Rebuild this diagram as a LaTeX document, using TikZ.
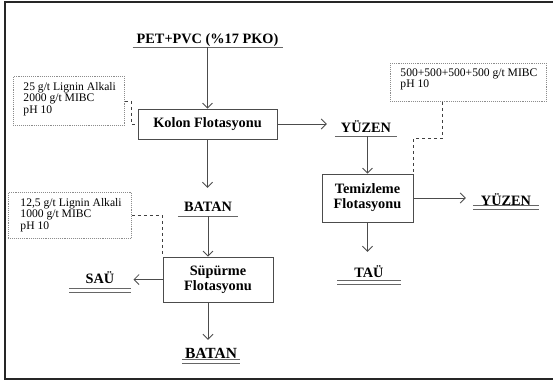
\documentclass[tikz,border=0pt]{standalone}
\usepackage{fontspec}
\setmainfont{Liberation Serif}
\usetikzlibrary{arrows.meta,calc}
\newcommand{\notelines}[3]{\parbox[c][#1][t]{#2}{\raggedright\hbadness=10000\hfuzz=20pt #3}}
\begin{document}
\begin{tikzpicture}[x=1pt,y=-1pt,
  box/.style={draw=black!70,line width=0.8pt,align=center,inner sep=0pt,
    font=\fontsize{14.3}{15}\selectfont\bfseries},
  note/.style={draw=black!45,densely dotted,line width=0.9pt,anchor=north west,
    inner xsep=10pt,inner ysep=6pt,font=\fontsize{11.6}{11.3}\selectfont},
  lbl/.style={anchor=base,inner xsep=6pt,inner ysep=4pt,text height=10pt,text depth=0pt,
    font=\fontsize{14.3}{15}\selectfont\bfseries},
  uline/.style={draw=black!60,line width=1pt},
  arr/.style={draw=black!70,line width=0.8pt,-{Straight Barb[length=5pt,width=10pt]}},
  dsh/.style={draw=black!75,line width=0.8pt,dashed}]
\useasboundingbox (0,0) rectangle (553,383);
\clip (0,0) rectangle (553,383);
\draw[line width=2pt,black!85] (5,2) rectangle (570,379);

% main boxes
\node[box,minimum width=139pt,minimum height=30pt] (kolon) at (207.5,124) {Kolon Flotasyonu};
\node[box,minimum width=91pt,minimum height=48pt] (temiz) at (367.5,198) {Temizleme\\Flotasyonu};
\node[box,minimum width=110pt,minimum height=45pt] (sup) at (218,279.5) {Süpürme\\Flotasyonu};

% notes
\node[note,inner xsep=10pt] (note1) at (13,76) {\notelines{37pt}{91pt}{\mbox{25 g/t Lignin Alkali}\\\mbox{2000 g/t MIBC}\\\mbox{pH 10}}};
\node[note,inner xsep=12pt] (note2) at (8,192) {\notelines{34pt}{99pt}{\mbox{12,5 g/t Lignin Alkali}\\\mbox{1000 g/t MIBC}\\\mbox{pH 10}}};
\node[note,inner xsep=10pt,inner ysep=5pt] (note3) at (390,63) {\notelines{28pt}{136pt}{\mbox{500+500+500+500 g/t MIBC}\\\mbox{pH 10}}};

% labels
\node[lbl,inner xsep=4pt] (pet) at (207.5,43) {PET+PVC (\%17 PKO)};
\node[lbl] (yuzen1) at (366,132) {YÜZEN};
\node[lbl,inner ysep=5pt] (batan1) at (208,211) {BATAN};
\node[lbl,inner ysep=9pt,inner xsep=16pt] (sau) at (100,283) {SAÜ};
\node[lbl,inner ysep=5pt,text height=11pt,font=\fontsize{15.5}{16}\selectfont\bfseries,inner xsep=3pt] (batan2) at (211,358) {BATAN};
\node[lbl,inner ysep=7pt,inner xsep=17pt] (tau) at (369,277) {TAÜ};
\node[lbl,inner ysep=4pt,inner xsep=8pt] (yuzen2) at (506,205) {YÜZEN};

% underlines
\draw[uline] (pet.south west) -- (pet.south east);
\draw[uline] (yuzen1.south west) -- (yuzen1.south east);
\draw[uline] (batan1.south west) -- (batan1.south east);
\foreach \n in {sau,batan2,tau,yuzen2}{
  \draw[uline] (\n.south west) -- (\n.south east);
  \draw[uline] ([yshift=4pt]\n.south west) -- ([yshift=4pt]\n.south east);
}

% arrows
\draw[arr] (pet.south) -- (kolon.north);
\draw[arr,shorten >=8pt] (kolon.east) -- (kolon.east -| yuzen1.west);
\draw[arr] (temiz.north |- yuzen1.south) -- (temiz.north);
\draw[arr,shorten >=7pt] (temiz.east) -- (temiz.east -| yuzen2.west);
\draw[arr,shorten >=8pt] (temiz.south) -- (tau.north -| temiz.south);
\draw[arr,shorten >=8pt] (kolon.south) -- (batan1.north -| kolon.south);
\draw[arr] (batan1.south) -- (batan1.south |- sup.north);
\draw[arr,shorten >=3pt] (sup.west) -- (sup.west -| sau.east);
\draw[arr,shorten >=2pt] (sup.south -| batan1.south) -- (batan2.north -| batan1.south);

% dashed connectors
\draw[dsh] (note1.east) -- ++(6,0) |- (kolon.west);
\draw[dsh] (note2.east) -| (sup.north west);
\draw[dsh] ([xshift=-26pt]note3.south) |- ($(temiz.north east)+(0,-35)$) -- (temiz.north east);
\end{tikzpicture}
\end{document}
